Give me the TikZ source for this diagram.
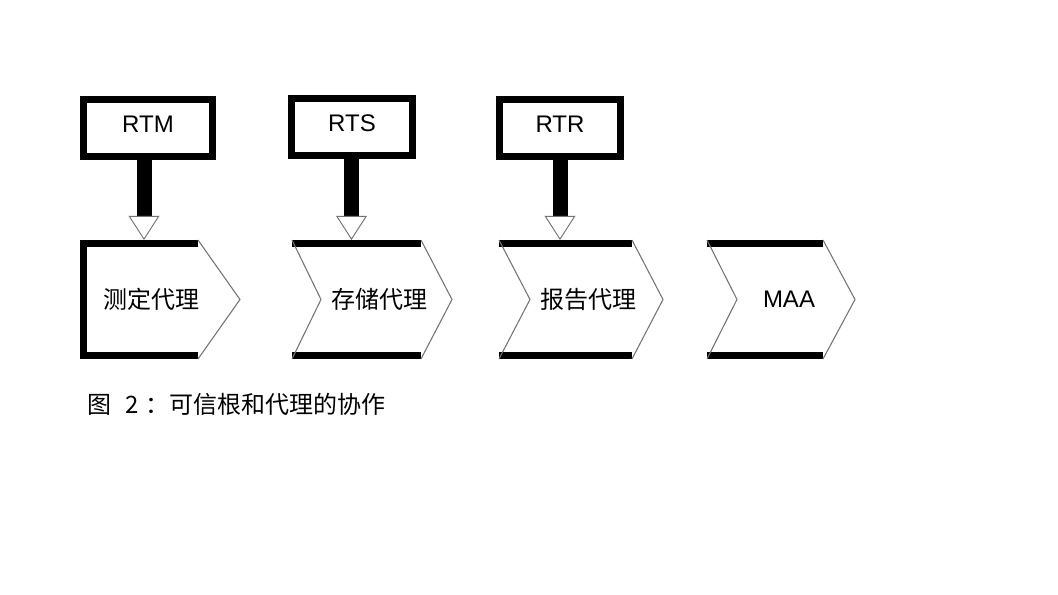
\documentclass[tikz,border=0pt]{standalone}
\usepackage{fontspec}
\setmainfont{Liberation Sans}
\newfontfamily\cjk{Noto Sans CJK SC}
\usetikzlibrary{arrows.meta}

\tikzset{
  root/.style={draw, line width=5.25pt, minimum height=42.75pt, inner sep=0pt,
    text depth=6pt, font=\fontsize{18}{20}\selectfont},
  bar/.style={line width=5.25pt},
  edge/.style={line width=0.8pt, draw=black!55},
  agent/.style={inner sep=0pt, font=\cjk\fontsize{18}{20}\selectfont},
  tag/.style={inner sep=0pt, font=\fontsize{18}{20}\selectfont},
  feed/.style={line width=11.25pt,
    -{Triangle[length=18pt, width=23pt, line width'=0.7pt, color=black!55, fill=white]}},
}

\begin{document}
\begin{tikzpicture}[x=0.75pt, y=-0.75pt]
\useasboundingbox (0,0) rectangle (1058,595);

% roots of trust
\node[root, minimum width=96.75pt] (rtm) at (148,128) {RTM};
\node[root, minimum width=90.75pt] (rts) at (352,127.5) {RTS};
\node[root, minimum width=90.75pt] (rtr) at (560,128) {RTR};

% measuring agent
\draw[bar] (198,243.5) -- (83.5,243.5) -- (83.5,355.5) -- (198,355.5);
\draw[edge] (198,240) -- (240,299.5) -- (198,359);
\node[agent] (mea) at (151.5,299.5) {测定代理};

% storage agent
\draw[bar] (292,243.5) -- (421,243.5);
\draw[bar] (292,355.5) -- (421,355.5);
\draw[edge] (292,240) -- (321,299.5) -- (292,359);
\draw[edge] (421,240) -- (452,299.5) -- (421,359);
\node[agent] (sto) at (379.5,299.5) {存储代理};

% reporting agent
\draw[bar] (499,243.5) -- (632,243.5);
\draw[bar] (499,355.5) -- (632,355.5);
\draw[edge] (499,240) -- (530,299.5) -- (499,359);
\draw[edge] (632,240) -- (663,299.5) -- (632,359);
\node[agent] (rep) at (588,299.5) {报告代理};

% MAA
\draw[bar] (707,243.5) -- (823,243.5);
\draw[bar] (707,355.5) -- (823,355.5);
\draw[edge] (707,240) -- (737,299.5) -- (707,359);
\draw[edge] (823,240) -- (855,299.5) -- (823,359);
\node[tag] (maa) at (789,299.5) {MAA};

\coordinate (a1) at (144,240);
\coordinate (a2) at (351.5,240);
\coordinate (a3) at (560,240);
\draw[feed] (rtm.south -| a1) -- (a1);
\draw[feed] (rts.south -| a2) -- (a2);
\draw[feed] (rtr.south -| a3) -- (a3);

\node[agent, anchor=west] (cap) at (87,404)
  {图\hspace{10.5pt}2\hspace{5pt}：可信根和代理的协作};
\end{tikzpicture}
\end{document}
